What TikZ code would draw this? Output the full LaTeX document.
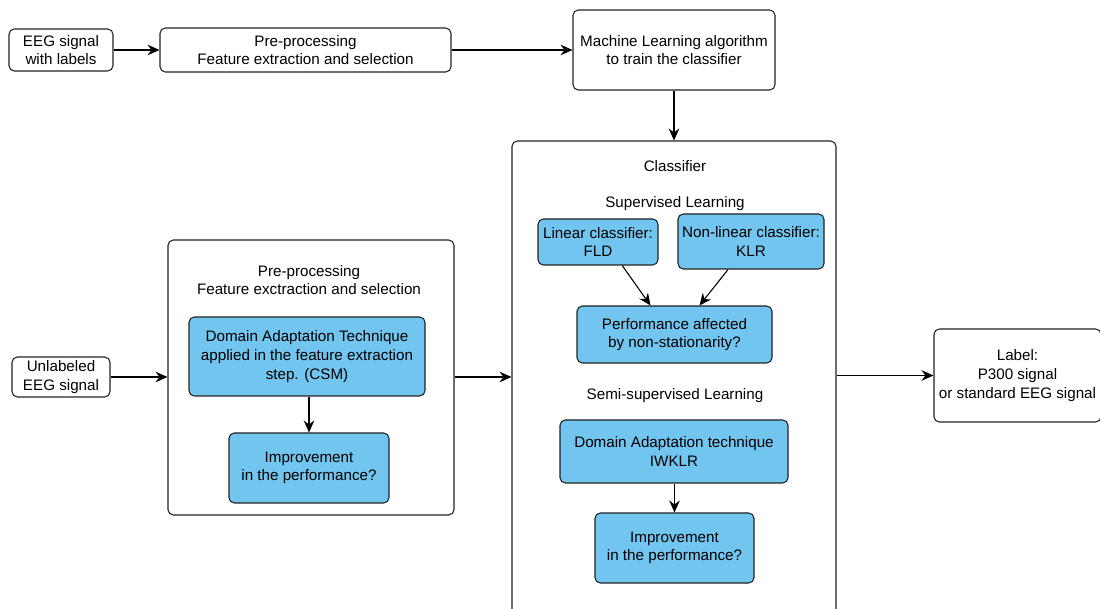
\documentclass[tikz,border=0pt]{standalone}
\usepackage{fontspec}
\setmainfont{Liberation Sans}
\usetikzlibrary{arrows.meta,calc}
\definecolor{boxblue}{HTML}{72C5EF}
\definecolor{edge}{HTML}{222222}
\begin{document}
\begin{tikzpicture}[x=0.75pt,y=-0.75pt,
  every node/.style={font=\fontsize{11.4}{14}\selectfont, align=center, inner sep=0pt},
  wbox/.style={draw=edge, line width=0.8pt, rounded corners=4pt, fill=white},
  bbox/.style={draw=edge, line width=0.8pt, rounded corners=4pt, fill=boxblue},
  lbl/.style={},
  arr/.style={draw=black, line width=0.8pt, -{Stealth[length=9pt,width=8pt,inset=3pt]}}]
\useasboundingbox (0,0) rectangle (1100,609);
\clip (0,0) rectangle (1100,609);
% top row
\node[wbox, minimum width=78pt, minimum height=31.5pt] (in1) at (61,50) {EEG signal\\with labels};
\node[wbox, minimum width=218.25pt, minimum height=33pt] (pre1) at (305.5,50) {Pre-processing\\Feature extraction and selection};
\node[wbox, minimum width=151.5pt, minimum height=60pt] (ml) at (674,50) {Machine Learning algorithm\\to train the classifier};
% classifier container
\node[wbox, minimum width=243pt, minimum height=373.5pt] (cls) at (674,390) {};
\node[lbl] (clst) at (675,166) {Classifier};
\node[lbl] (sup) at (675,204) {Supervised Learning};
\node[bbox, minimum width=90pt, minimum height=34.5pt] (lin) at (598,242) {Linear classifier:\\FLD};
\node[bbox, minimum width=109.5pt, minimum height=41.25pt] (nonlin) at (751,241.5) {Non-linear classifier:\\KLR};
\node[bbox, minimum width=146.25pt, minimum height=42.75pt] (perf) at (674.5,334.5) {Performance affected\\by non-stationarity?};
\node[lbl] (semi) at (675,396) {Semi-supervised Learning};
\node[bbox, minimum width=171pt, minimum height=47.25pt] (iwklr) at (674,451.5) {Domain Adaptation technique\\IWKLR};
\node[bbox, minimum width=119.25pt, minimum height=52.5pt] (imp2) at (674.5,548) {Improvement\\in the performance?};
% label
\node[wbox, minimum width=125.25pt, minimum height=69.75pt] (label) at (1017.5,375.5) {Label:\\P300 signal\\or standard EEG signal};
% left container
\node[wbox, minimum width=214.5pt, minimum height=206.25pt] (pre2) at (311,377.5) {};
\node[lbl] (pre2t) at (309,280) {Pre-processing\\Feature exctraction and selection};
\node[bbox, minimum width=177pt, minimum height=59.25pt] (csm) at (307,356.5) {Domain Adaptation Technique\\applied in the feature extraction\\step. (CSM)};
\node[bbox, minimum width=120pt, minimum height=52.5pt] (imp1) at (309,468) {Improvement\\in the performance?};
\node[wbox, minimum width=73.5pt, minimum height=30pt] (in2) at (61,377) {Unlabeled\\EEG signal};
% connectors
\draw[arr] (in1.east) -- (pre1.west);
\draw[arr] (pre1.east) -- (ml.west);
\draw[arr] (ml.south) -- (cls.north);
\draw[arr] (in2.east) -- (in2.east -| pre2.west);
\draw[arr] (pre2.east |- in2.east) -- (in2.east -| cls.west);
\draw[arr] (cls.east |- label.west) -- (label.west);
\draw[arr] ($(lin.south)!0.4!(lin.south east)$) -- ($(perf.north)+(-24,0)$);
\draw[arr] ($(nonlin.south)+(-23,0)$) -- ($(perf.north)+(25,0)$);
\draw[arr] (csm.south -| imp1.north) -- (imp1.north);
\draw[arr] (iwklr.south -| imp2.north) -- (imp2.north);
\end{tikzpicture}
\end{document}
